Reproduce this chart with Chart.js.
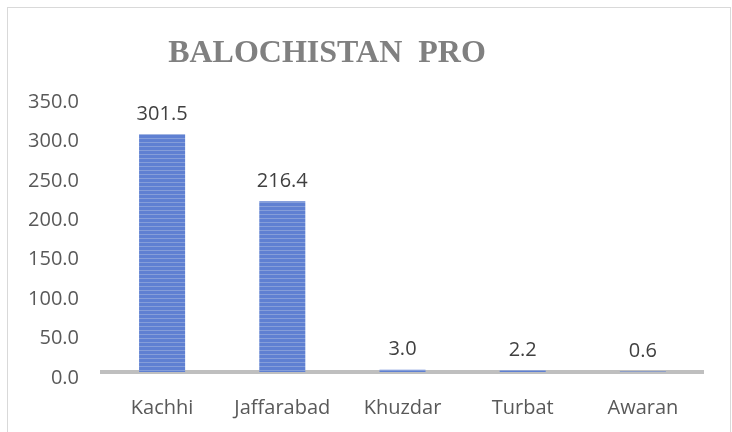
<!DOCTYPE html>
<html>
<head>
<meta charset="utf-8">
<script src="https://cdn.jsdelivr.net/npm/chart.js"></script>
<style>
  html, body { margin: 0; padding: 0; background: #ffffff; }
  #wrap { width: 732px; height: 432px; }
</style>
</head>
<body>
<div id="wrap"><canvas id="c" width="732" height="432"></canvas></div>
<script>
var titleText = "BALOCHISTAN  PRO";
var districts = ["Kachhi", "Jaffarabad", "Khuzdar", "Turbat", "Awaran"];
var values = [301.5, 216.4, 3.0, 2.2, 0.6];
var yMin = 0, yMax = 350, yStep = 50;

function stripes() {
  var p = document.createElement("canvas");
  p.width = 4; p.height = 4;
  var g = p.getContext("2d");
  g.fillStyle = "#5f80d2";
  g.fillRect(0, 0, 4, 4);
  g.fillStyle = "#859ed9";
  g.fillRect(0, 2, 4, 1);
  return g.createPattern(p, "repeat");
}

var frame = {
  id: "frame",
  beforeDraw: function (chart) {
    var ctx = chart.ctx;
    ctx.save();
    ctx.strokeStyle = "#d9d9d9";
    ctx.lineWidth = 1;
    ctx.strokeRect(7.5, 7.5, 723, 440);
    ctx.fillStyle = "#808080";
    ctx.font = "bold 32px 'Liberation Serif', 'Times New Roman', serif";
    ctx.textAlign = "center";
    ctx.textBaseline = "middle";
    ctx.fillText(titleText, 327, 54);
    ctx.restore();
  }
};

var valueLabels = {
  id: "valueLabels",
  afterDatasetsDraw: function (chart) {
    var meta = chart.getDatasetMeta(0);
    var ctx = chart.ctx;
    ctx.save();
    ctx.fillStyle = "#404040";
    ctx.font = "20px 'Open Sans'";
    ctx.textAlign = "center";
    ctx.textBaseline = "middle";
    meta.data.forEach(function (bar, i) {
      ctx.fillText(values[i].toFixed(1), bar.x, bar.y - 20);
    });
    ctx.restore();
  }
};

new Chart(document.getElementById("c"), {
  type: "bar",
  data: {
    labels: districts,
    datasets: [{
      data: values,
      backgroundColor: stripes(),
      borderWidth: 0,
      categoryPercentage: 1,
      barPercentage: 0.383
    }]
  },
  options: {
    responsive: false,
    animation: false,
    layout: { padding: { left: 0, top: 96, right: 29, bottom: 0 } },
    plugins: {
      legend: { display: false },
      title: { display: false },
      tooltip: { enabled: false }
    },
    scales: {
      x: {
        z: 1,
        grid: { display: false, drawTicks: false },
        border: { display: true, color: "#bfbfbf", width: 4 },
        ticks: { color: "#595959", font: { family: "'Open Sans'", size: 20 }, padding: 24, maxRotation: 0 },
        afterFit: function (s) { s.height = 60; }
      },
      y: {
        min: yMin,
        max: yMax,
        grid: { display: false, drawTicks: false },
        border: { display: false },
        ticks: {
          stepSize: yStep,
          color: "#595959",
          font: { family: "'Open Sans'", size: 20 },
          padding: 23,
          labelOffset: 6,
          callback: function (v) { return Number(v).toFixed(1); }
        },
        afterFit: function (s) { s.width = 102; }
      }
    }
  },
  plugins: [frame, valueLabels]
});
</script>
</body>
</html>
